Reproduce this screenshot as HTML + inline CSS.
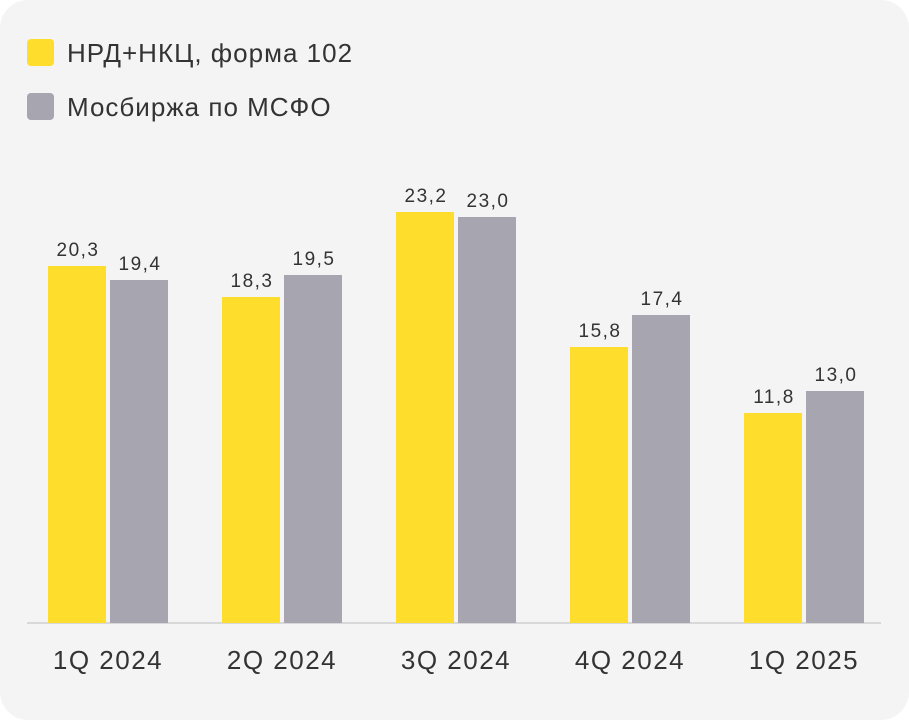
<!DOCTYPE html>
<html><head><meta charset="utf-8"><style>
html,body{margin:0;padding:0;background:#fff;}
svg{display:block;font-family:"Liberation Sans","DejaVu Sans",sans-serif;}
</style></head><body>
<svg width="909" height="720" viewBox="0 0 909 720">
<rect x="0" y="0" width="909" height="720" rx="28" fill="#f4f4f4"/>
<rect x="27" y="39" width="27" height="27" rx="4" fill="#ffdd2d"/>
<text x="67" y="62" font-size="26" letter-spacing="1" fill="#333">НРД+НКЦ, форма 102</text>
<rect x="27" y="93" width="27" height="27" rx="4" fill="#a7a5b0"/>
<text x="67" y="116" font-size="26" letter-spacing="1" fill="#333">Мосбиржа по МСФО</text>
<line x1="27" y1="623" x2="881" y2="623" stroke="#cfcfcf" stroke-width="1.5"/>
<g fill="#ffdd2d">
<rect x="48" y="266" width="58" height="357"/>
<rect x="222" y="297" width="58" height="326"/>
<rect x="396" y="212" width="58" height="411"/>
<rect x="570" y="347" width="58" height="276"/>
<rect x="744" y="413" width="58" height="210"/>
</g>
<g fill="#a7a5b0">
<rect x="110" y="280" width="58" height="343"/>
<rect x="284" y="275" width="58" height="348"/>
<rect x="458" y="217" width="58" height="406"/>
<rect x="632" y="315" width="58" height="308"/>
<rect x="806" y="391" width="58" height="232"/>
</g>
<g font-size="19" letter-spacing="1.5" fill="#333" text-anchor="middle">
<text x="78" y="256">20,3</text><text x="140" y="270">19,4</text>
<text x="252" y="287">18,3</text><text x="314" y="265">19,5</text>
<text x="426" y="202">23,2</text><text x="488" y="207">23,0</text>
<text x="600" y="337">15,8</text><text x="662" y="305">17,4</text>
<text x="774" y="403">11,8</text><text x="836" y="381">13,0</text>
</g>
<g font-size="26" letter-spacing="1.5" fill="#333" text-anchor="middle">
<text x="108" y="669">1Q 2024</text>
<text x="282" y="669">2Q 2024</text>
<text x="456" y="669">3Q 2024</text>
<text x="630" y="669">4Q 2024</text>
<text x="804" y="669">1Q 2025</text>
</g>
</svg>
</body></html>
